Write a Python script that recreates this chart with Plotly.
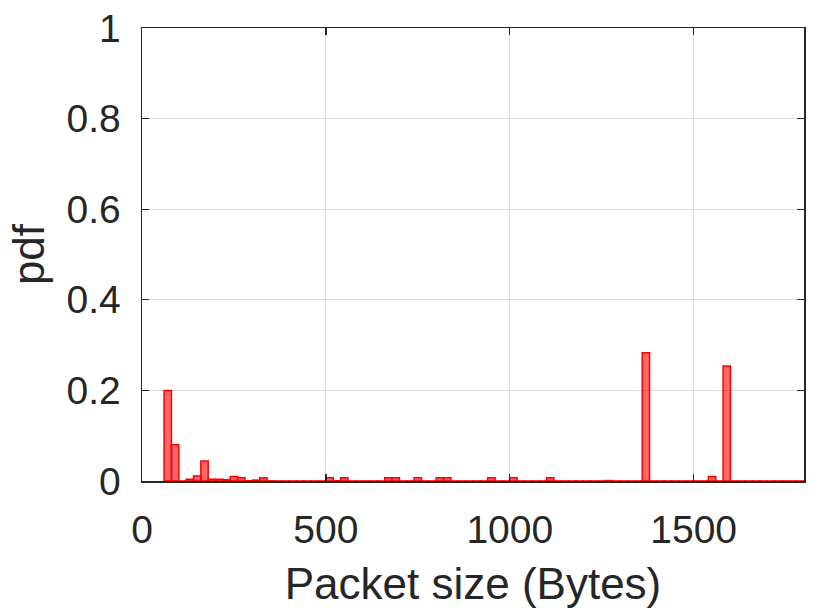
import plotly.graph_objects as go

# Histogram bins (left edges, bytes) and probabilities
bin_width = 20
bin_left = list(range(60, 1800, 20))
prob = [
    0.200, 0.080, 0.000, 0.004, 0.011, 0.044, 0.004, 0.004, 0.003, 0.010,  # 60-240
    0.007, 0.0005, 0.002, 0.007, 0.0003, 0.0001, 0.0001, 0.0001, 0.0001, 0.0001,  # 260-440
    0.0001, 0.0001, 0.007, 0.0005, 0.007, 0.0001, 0.0001, 0.0001, 0.0001, 0.0001,  # 460-640
    0.007, 0.007, 0.0001, 0.0001, 0.007, 0.0001, 0.0001, 0.007, 0.007, 0.0001,  # 660-840
    0.0001, 0.0001, 0.0001, 0.0001, 0.007, 0.0001, 0.0001, 0.007, 0.0001, 0.0001,  # 860-1040
    0.0001, 0.0001, 0.007, 0.0001, 0.0001, 0.0001, 0.0001, 0.0001, 0.0001, 0.0001,  # 1060-1240
    0.001, 0.0001, 0.0001, 0.0001, 0.0001, 0.283, 0.0001, 0.0001, 0.0001, 0.0001,  # 1260-1440
    0.0001, 0.0001, 0.0001, 0.0001, 0.010, 0.0001, 0.254, 0.0001, 0.0001, 0.0001,  # 1460-1640
    0.0001, 0.0001, 0.0001, 0.0001, 0.0001, 0.0001, 0.0001,  # 1660-1780
]
x_ticks = [0, 500, 1000, 1500]
y_ticks = [0, 0.2, 0.4, 0.6, 0.8, 1]
y_ticklabels = ["0", "0.2", "0.4", "0.6", "0.8", "1"]

centers = [b + bin_width / 2 for b in bin_left]

font_family = "Liberation Sans, Arial, Helvetica, sans-serif"
axis_color = "#262626"

fig = go.Figure()
fig.add_trace(go.Bar(
    x=centers,
    y=prob,
    width=bin_width,
    marker=dict(color="rgba(255,0,0,0.6)", line=dict(color="#ff0000", width=1.5)),
    showlegend=False,
    hoverinfo="skip",
))

fig.update_layout(
    width=830,
    height=612,
    margin=dict(l=142, r=26, t=28, b=131, autoexpand=False),
    paper_bgcolor="white",
    plot_bgcolor="white",
    bargap=0,
    font=dict(family=font_family, color=axis_color),
    xaxis=dict(
        range=[0, 1800],
        tickvals=x_ticks,
        ticktext=[str(v) for v in x_ticks],
        ticks="inside",
        ticklen=7,
        tickwidth=1.3,
        tickcolor=axis_color,
        showline=True,
        linecolor=axis_color,
        linewidth=1.5,
        mirror="ticks",
        showgrid=True,
        gridcolor="#dcdcdc",
        gridwidth=1,
        zeroline=False,
        automargin=False,
        tickfont=dict(size=39, color=axis_color),
        ticklabelstandoff=14,
        title=dict(text="Packet size (Bytes)", font=dict(size=44, color=axis_color), standoff=18),
        layer="above traces",
    ),
    yaxis=dict(
        range=[0, 1],
        tickvals=y_ticks,
        ticktext=y_ticklabels,
        ticks="inside",
        ticklen=7,
        tickwidth=1.3,
        tickcolor=axis_color,
        showline=True,
        linecolor=axis_color,
        linewidth=1.5,
        mirror="ticks",
        showgrid=True,
        gridcolor="#dcdcdc",
        gridwidth=1,
        zeroline=False,
        automargin=False,
        tickfont=dict(size=39, color=axis_color),
        ticklabelstandoff=12,
        title=dict(text="pdf", font=dict(size=44, color=axis_color), standoff=8),
        layer="above traces",
    ),
)

fig.write_html(
    "out.html",
    config={"displayModeBar": False, "staticPlot": True},
    post_script="document.body.style.margin='0';",
)
